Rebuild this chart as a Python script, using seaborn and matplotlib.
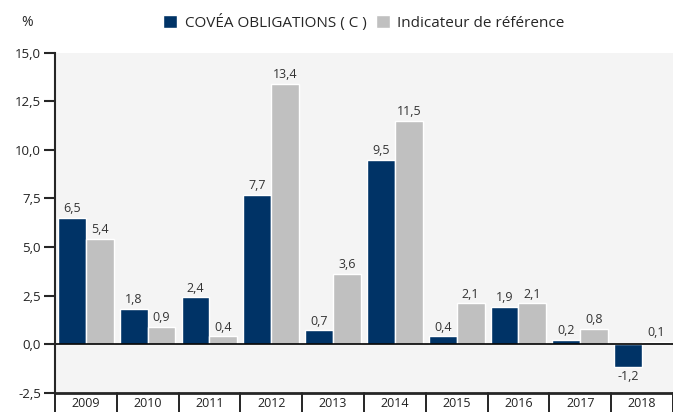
import pandas as pd
import seaborn as sns
import matplotlib.pyplot as plt

years = ["2009", "2010", "2011", "2012", "2013", "2014", "2015", "2016", "2017", "2018"]
covea = [6.5, 1.8, 2.4, 7.7, 0.7, 9.5, 0.4, 1.9, 0.2, -1.2]
indicateur = [5.4, 0.9, 0.4, 13.4, 3.6, 11.5, 2.1, 2.1, 0.8, 0.1]
series_names = ["COVÉA OBLIGATIONS ( C )", "Indicateur de référence"]
colors = ["#003366", "#c0c0c0"]

df = pd.DataFrame({
    "year": years * 2,
    "value": covea + indicateur,
    "serie": [series_names[0]] * len(years) + [series_names[1]] * len(years),
})

sns.set_style("white")
plt.rcParams["font.family"] = ["Open Sans", "DejaVu Sans"]

fig = plt.figure(figsize=(6.73, 4.12), dpi=100)
ax = fig.add_axes([0.0817, 0.047, 0.9183, 0.825])
ax.set_facecolor("#f4f4f4")

sns.barplot(data=df, x="year", y="value", hue="serie", palette=colors,
            width=0.9, ax=ax, saturation=1)

# value labels
for cont in ax.containers:
    labels = [f"{v:.1f}".replace(".", ",") for v in cont.datavalues]
    ax.bar_label(cont, labels=labels, padding=2, fontsize=9, color="#333333")

ax.axhline(0, color="black", lw=1.2)
ax.set_ylim(-2.5, 15)
ax.set_xlim(-0.5, len(years) - 0.5)
yt = [-2.5, 0, 2.5, 5, 7.5, 10, 12.5, 15]
ax.set_yticks(yt)
ax.set_yticklabels([f"{v:.1f}".replace(".", ",") for v in yt], fontsize=9.5, color="#222222")
ax.tick_params(axis="y", left=True, length=8, width=1.5, pad=2)
ax.tick_params(axis="x", bottom=False, labelsize=9, pad=0, labelcolor="#222222")

for s in ["top", "right"]:
    ax.spines[s].set_visible(False)
ax.spines["left"].set_linewidth(1.5)
ax.spines["bottom"].set_linewidth(2)

# category separators below the axis
trans = ax.get_xaxis_transform()
for i in range(len(years) + 1):
    ax.plot([i - 0.5, i - 0.5], [0, -0.07], transform=trans, color="black",
            lw=1.2, clip_on=False)

ax.set_xlabel("")
ax.set_ylabel("")
ax.text(-0.045, 1.08, "%", transform=ax.transAxes, fontsize=10, ha="center")

ax.legend(loc="upper center", bbox_to_anchor=(0.5, 1.155), ncol=2, frameon=False,
          fontsize=11, handlelength=0.9, handleheight=0.9, handletextpad=0.5,
          columnspacing=0.6)

fig.savefig("out.png", dpi=100)
